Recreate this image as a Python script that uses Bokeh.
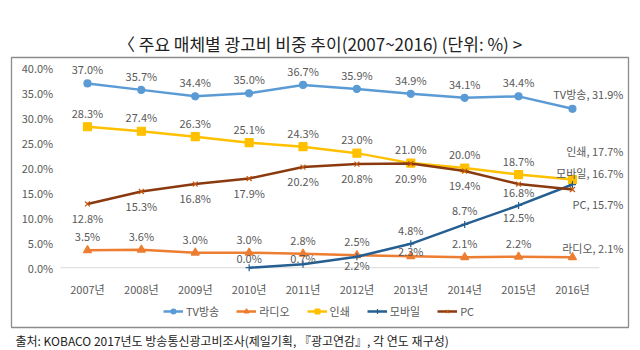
from bokeh.plotting import figure
from bokeh.models import (ColumnDataSource, Range1d, LinearAxis, FixedTicker,
                          PrintfTickFormatter, Legend, LegendItem, Title)
from bokeh.core.properties import value
from bokeh.embed import file_html
from bokeh.resources import INLINE

# ---------------- data ----------------
years = ["2007년", "2008년", "2009년", "2010년", "2011년",
         "2012년", "2013년", "2014년", "2015년", "2016년"]
tv = [37.0, 35.7, 34.4, 35.0, 36.7, 35.9, 34.9, 34.1, 34.4, 31.9]
radio = [3.5, 3.6, 3.0, 3.0, 2.8, 2.5, 2.3, 2.1, 2.2, 2.1]
print_ad = [28.3, 27.4, 26.3, 25.1, 24.3, 23.0, 21.0, 20.0, 18.7, 17.7]
mobile_years = ["2010년", "2011년", "2012년", "2013년", "2014년", "2015년", "2016년"]
mobile = [0.0, 0.7, 2.2, 4.8, 8.7, 12.5, 16.7]
pc = [12.8, 15.3, 16.8, 17.9, 20.2, 20.8, 20.9, 19.4, 16.8, 15.7]
y_ticks = [0, 5, 10, 15, 20, 25, 30, 35, 40]

title_text = "〈 주요 매체별 광고비 비중 추이(2007~2016) (단위: %) >"
footer_text = "출처: KOBACO 2017년도 방송통신광고비조사(제일기획, 『광고연감』, 각 연도 재구성)"

# label placement (pixel offsets of the value labels, style only)
tv_off = [-14] * 9 + [-15]
radio_off = [-14, -14, -14, -14, -14, -14, -5, -14, -14, -9]
print_off = [-14] * 9 + [-29]
mobile_off = [-10, -6, 8, -14, -14, 12, -12]
pc_off = [14, 14, 14, 14, 14, 14, 14, 14, 8, 14]

FONT = "Noto Sans CJK KR"
GRAY = "#595959"

p = figure(width=640, height=350, output_backend="svg", toolbar_location=None,
           x_axis_location=None, y_axis_location=None,
           x_range=Range1d(-1.41, 10.04), y_range=Range1d(-12.0, 42.2),
           min_border_left=11, min_border_right=12, min_border_top=57,
           min_border_bottom=22)
p.grid.visible = False
p.outline_line_color = "#8C8C8C"
p.outline_line_width = 1.3
p.background_fill_color = "white"
p.border_fill_color = "white"

p.title.text = title_text
p.title.align = "center"
p.title.text_font = FONT
p.title.text_font_size = "17px"
p.title.text_font_style = "normal"
p.title.text_color = "#222222"
p.title.standoff = 3

p.add_layout(Title(text=footer_text, align="left", text_font=FONT,
                   text_font_size="12px", text_font_style="normal",
                   text_color="#222222", offset=4, standoff=4), "below")

idx = list(range(len(years)))
midx = [years.index(y) for y in mobile_years]

# baseline
p.segment(x0=[-0.5], y0=[0], x1=[len(years) - 0.5], y1=[0],
          line_color="#D9D9D9", line_width=1)

# axes
xaxis = LinearAxis(fixed_location=0, ticker=FixedTicker(ticks=idx),
                   major_label_overrides={i: y for i, y in zip(idx, years)})
xaxis.axis_line_color = None
xaxis.major_tick_line_color = None
xaxis.minor_tick_line_color = None
xaxis.major_label_standoff = 7
xaxis.major_label_text_font = FONT
xaxis.major_label_text_font_size = "11px"
xaxis.major_label_text_color = GRAY
p.add_layout(xaxis, "below")

yaxis = LinearAxis(fixed_location=-0.45, ticker=FixedTicker(ticks=y_ticks),
                   formatter=PrintfTickFormatter(format="%.1f%%"))
yaxis.axis_line_color = None
yaxis.major_tick_line_color = None
yaxis.minor_tick_line_color = None
yaxis.major_label_standoff = 4
yaxis.major_label_text_font = FONT
yaxis.major_label_text_font_size = "11px"
yaxis.major_label_text_color = GRAY
p.add_layout(yaxis, "left")

series = [
    ("TV방송", idx, tv, "#5B9BD5", "circle", 7, tv_off),
    ("라디오", idx, radio, "#ED7D31", "triangle", 8, radio_off),
    ("인쇄", idx, print_ad, "#FFC000", "square", 8, print_off),
    ("모바일", midx, mobile, "#255E91", "cross", 7, mobile_off),
    ("PC", idx, pc, "#8B3A10", "x", 7, pc_off),
]

items = []
for name, xs, ys, color, marker, size, offs in series:
    src = ColumnDataSource(dict(x=xs, y=ys))
    ln = p.line("x", "y", source=src, line_color=color, line_width=2.5)
    mk = p.scatter("x", "y", source=src, marker=marker, size=size,
                   fill_color=color,
                   line_color=color if marker != "x" else "#C55A11",
                   line_width=1.2)
    items.append(LegendItem(label=name, renderers=[ln, mk]))
    # value labels
    texts = [f"{v:.1f}%" for v in ys]
    texts[-1] = f"{name}, {ys[-1]:.1f}%"
    xo = [0] * (len(ys) - 1) + [51]
    al = ["center"] * (len(ys) - 1) + ["right"]
    lsrc = ColumnDataSource(dict(x=xs, y=ys, t=texts, yo=offs, xo=xo, al=al))
    p.text("x", "y", text="t", source=lsrc, x_offset="xo", y_offset="yo",
           text_align="al", text_baseline="middle", text_font=value(FONT),
           text_font_size="11px", text_color=GRAY)

legend = Legend(items=items, orientation="horizontal", location=(152, 8),
                glyph_width=20, glyph_height=12, label_standoff=3, spacing=17,
                padding=0, margin=0, border_line_color=None,
                background_fill_alpha=0, label_text_font=FONT,
                label_text_font_size="11px", label_text_color=GRAY,
                label_height=12)
p.add_layout(legend, "center")

open("out.html", "w").write(file_html(p, INLINE))
